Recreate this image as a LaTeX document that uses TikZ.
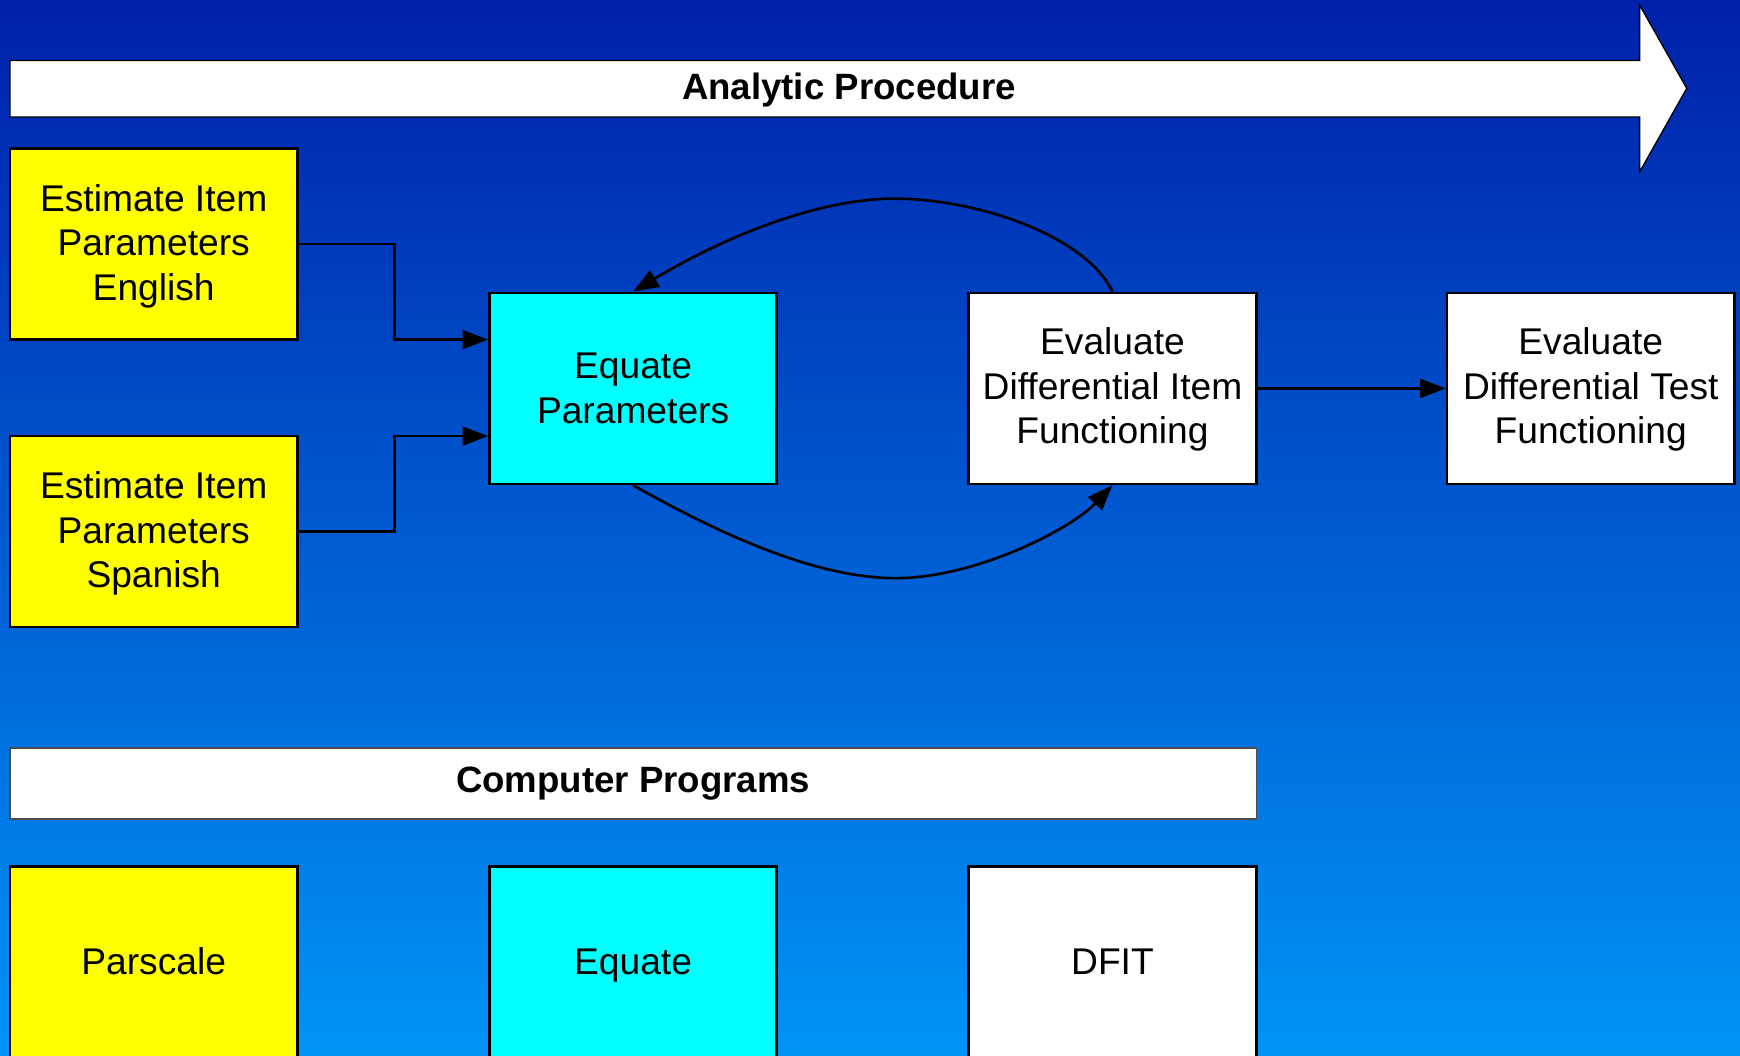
\documentclass[tikz,border=0pt]{standalone}
\usepackage{fontspec}
\setmainfont{Liberation Sans}
\usetikzlibrary{arrows.meta,calc}
\definecolor{bgtop}{RGB}{0,32,170}
\definecolor{bgbot}{RGB}{0,148,248}
\definecolor{boxyellow}{RGB}{255,255,0}
\definecolor{boxcyan}{RGB}{0,255,255}
\begin{document}
\begin{tikzpicture}[x=1pt,y=-1pt,
  box/.style={draw=black, line width=2.4pt, minimum width=259pt, minimum height=172pt,
    inner sep=0pt, align=center, font=\fontsize{33.5}{40}\selectfont},
  oneline/.style={text height=28pt, text depth=6pt},
  conn/.style={line width=2.4pt, -{Triangle[length=23pt,width=17pt]}},
  banner/.style={font=\bfseries\fontsize{33}{40}\selectfont},
  ]
\clip (0,0) rectangle (1568,951);
\shade[top color=bgtop, bottom color=bgbot] (0,0) rectangle (1568,951);

% big arrow
\draw[fill=white, line width=1.2pt, line join=miter]
  (9,54.5) -- (1477.5,54.5) -- (1477.5,4.5) -- (1520,79.6) -- (1477.5,155)
  -- (1477.5,105.4) -- (9,105.4) -- cycle;
\node[banner, anchor=base] (ap) at (765,89.5) {Analytic Procedure};

% boxes
\node[box, fill=boxyellow, text depth=3pt] (y1) at (138.5,220) {Estimate Item\\Parameters\\English};
\node[box, fill=boxyellow, text depth=3pt] (y2) at (138.5,479) {Estimate Item\\Parameters\\Spanish};
\node[box, fill=boxcyan] (eq) at (570.5,350) {Equate\\Parameters};
\node[box, fill=white, text depth=5pt] (dif) at (1002.5,350) {Evaluate\\Differential Item\\Functioning};
\node[box, fill=white, text depth=5pt] (dtf) at (1433.5,350) {Evaluate\\Differential Test\\Functioning};

% connectors
\draw[conn] (y1.east) -- ++(86,0) |- ([yshift=44pt]eq.west);
\draw[conn] (y2.east) -- ++(86,0) |- ([yshift=-43pt]eq.west);
\draw[conn] (dif.north) .. controls (978,212) and (880,179) .. (806,179)
  .. controls (735,179) and (650,215) .. (eq.north);
\draw[conn] (eq.south) .. controls (648,481) and (735,521) .. (807,521)
  .. controls (880,521) and (966,476) .. (dif.south);
\draw[conn] (dif.east) -- (dtf.west);

% computer programs bar
\node[draw=black!70, line width=1.2pt, fill=white, minimum width=1123pt, minimum height=64pt,
  inner sep=0pt] (cpbar) at (570.5,706) {};
\node[banner, anchor=base] (cp) at (570.5,714.5) {Computer Programs};

% bottom boxes
\node[box, oneline, fill=boxyellow] (ps) at (138.5,867) {Parscale};
\node[box, oneline, fill=boxcyan] (eqp) at (570.5,867) {Equate};
\node[box, oneline, fill=white] (dfit) at (1002.5,867) {DFIT};
\end{tikzpicture}
\end{document}
